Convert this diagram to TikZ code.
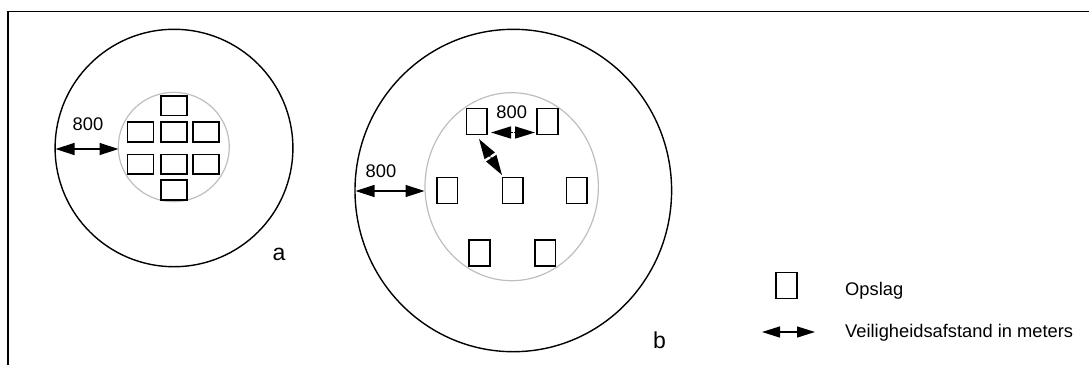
\documentclass[tikz,border=0pt]{standalone}
\usepackage{fontspec}
\setmainfont{Liberation Sans}
\usetikzlibrary{arrows.meta,calc}
\definecolor{ringgray}{RGB}{190,190,190}
\begin{document}
\begin{tikzpicture}[x=1pt,y=-1pt,
  outerring/.style={line width=1.4pt,draw=black},
  innerring/.style={line width=1.2pt,draw=ringgray},
  storea/.style={draw,line width=1.6pt,inner sep=0pt,minimum width=26pt,minimum height=19.5pt},
  storeb/.style={draw,line width=1.6pt,inner sep=0pt,minimum width=20.5pt,minimum height=26pt},
  dist/.style={line width=1.4pt,{Triangle[length=19pt,width=12pt]}-{Triangle[length=19pt,width=12pt]}},
  distshort/.style={line width=1.4pt,{Triangle[length=20pt,width=12pt]}-{Triangle[length=20pt,width=12pt]}},
  gapcut/.style={draw=white,line width=1pt},
  lbl/.style={inner sep=0pt,anchor=base,font=\fontsize{18.3}{21}\selectfont},
  biglbl/.style={inner sep=0pt,anchor=base,font=\fontsize{23}{26}\selectfont}]
\useasboundingbox (0,0) rectangle (1089,365);
% frame
\draw[line width=1.6pt] (8,365) -- (8,11.3) -- (1089,11.3);

% ---------- a ----------
\draw[outerring] (174,148) ellipse [x radius=118.9pt, y radius=118.7pt];
\draw[innerring] (173.8,147) ellipse [x radius=55.5pt, y radius=54.7pt];
\node[storea] (a1) at (173.7,105.7) {};
\node[storea] (a2) at (140.3,132) {};
\node[storea] (a3) at (173.7,132) {};
\node[storea] (a4) at (205.8,132) {};
\node[storea] (a5) at (140.3,164.3) {};
\node[storea] (a6) at (173.7,164.3) {};
\node[storea] (a7) at (205.8,164.3) {};
\node[storea] (a8) at (173.7,190) {};
\coordinate (aL) at (55.5,149);
\coordinate (aR) at (118.5,149);
\draw[dist] (aL) -- (aR);
\node[lbl] (la) at (88,130) {800};
\node[biglbl] (na) at (279,260) {a};

% ---------- b ----------
\draw[outerring] (513.3,190.5) ellipse [x radius=158.3pt, y radius=161.2pt];
\draw[innerring] (511.7,186.7) ellipse [x radius=86.7pt, y radius=94pt];
\node[storeb] (b1) at (476.6,121.4) {};
\node[storeb] (b2) at (547.5,121.4) {};
\node[storeb] (b3) at (447.1,190.3) {};
\node[storeb] (b4) at (512.8,190.3) {};
\node[storeb] (b5) at (576.8,190.3) {};
\node[storeb] (b6) at (479.5,252.8) {};
\node[storeb] (b7) at (545.3,252.8) {};
\coordinate (bL) at (355.5,191);
\coordinate (bR) at (424.5,191);
\draw[dist] (bL) -- (bR);
\node[lbl] (lb1) at (381,177) {800};
% split arrow between top stores
\coordinate (tl) at (491,132.5);
\coordinate (tr) at (535,132.5);
\draw[distshort] (tl) -- (tr);
\draw[gapcut] ($(tl)!0.5!(tr)+(0,-7)$) -- ($(tl)!0.5!(tr)+(0,7)$);
\node[lbl] (lb2) at (511.7,118.3) {800};
% split diagonal arrow
\coordinate (dt) at (479,139);
\coordinate (db) at (502,175);
\draw[distshort] (dt) -- (db);
\draw[gapcut] ($(dt)!0.5!(db)!7pt!90:(db)$) -- ($(dt)!0.5!(db)!7pt!-90:(db)$);
\node[biglbl] (nb) at (659.5,348) {b};

% ---------- legend ----------
\node[storeb] (leg1) at (786.5,285.5) {};
\node[lbl,anchor=base west] (legt1) at (845,295) {Opslag};
\coordinate (lgL) at (762,332);
\coordinate (lgR) at (815,332);
\draw[line width=1.4pt,{Triangle[length=18pt,width=11pt]}-{Triangle[length=18pt,width=11pt]}] (lgL) -- (lgR);
\node[lbl,anchor=base west] (legt2) at (845,337) {Veiligheidsafstand in meters};
\end{tikzpicture}
\end{document}
